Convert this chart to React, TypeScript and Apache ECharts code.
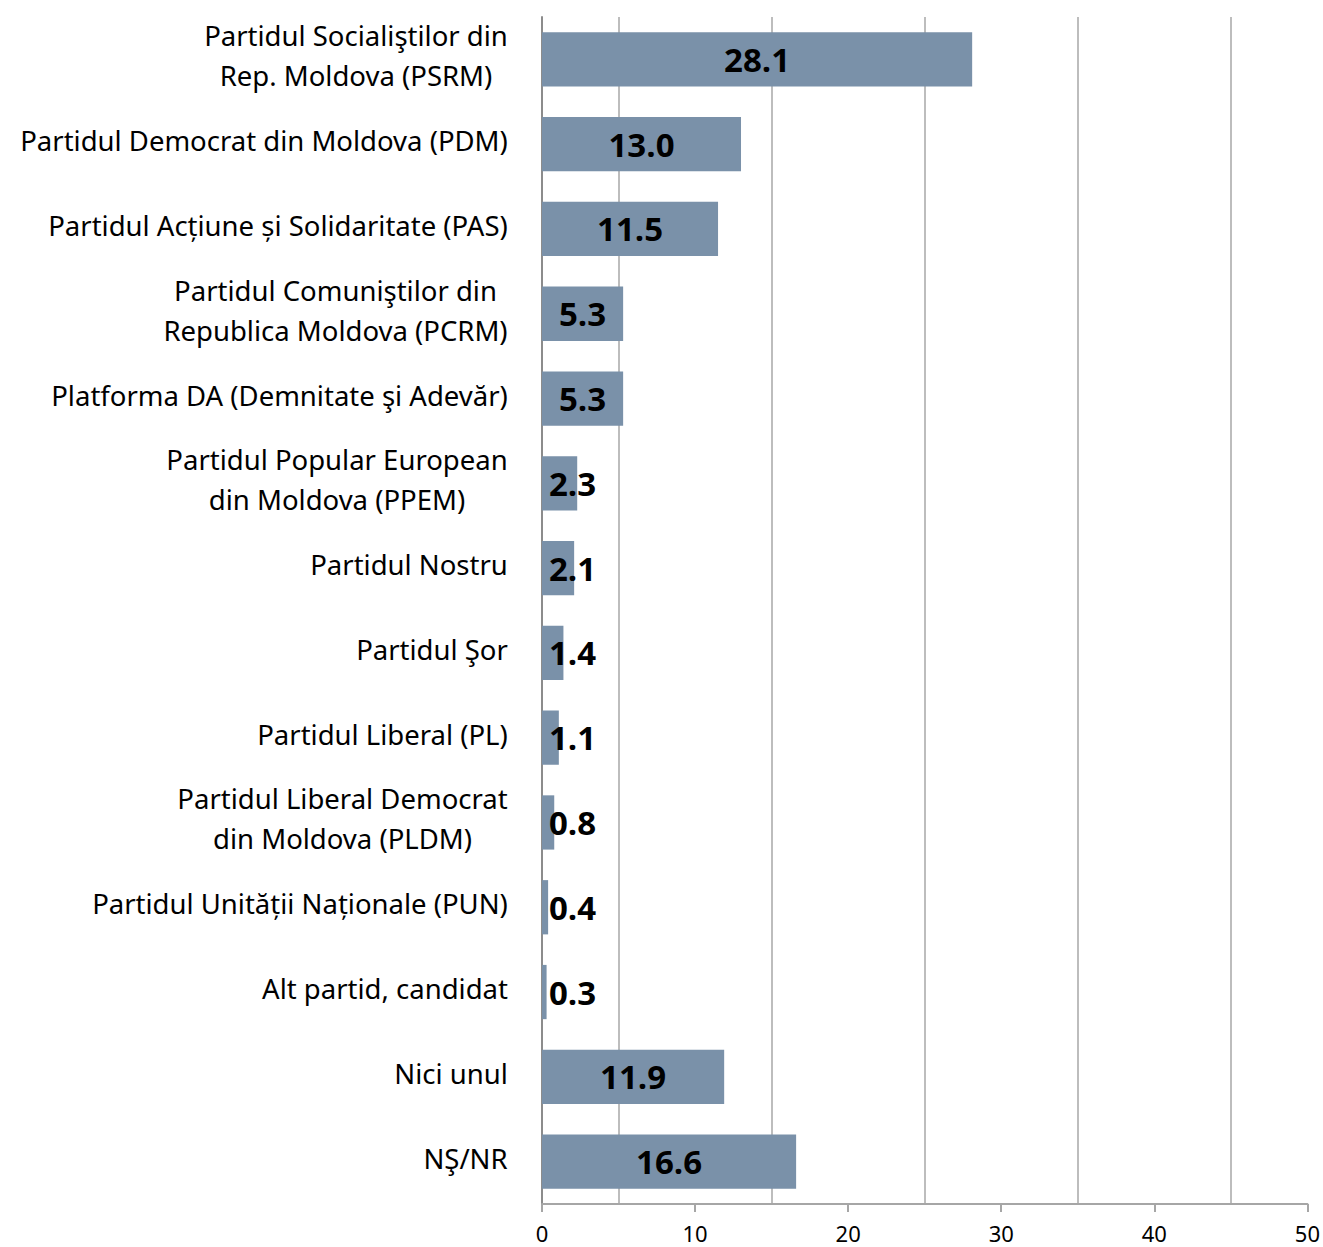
import React, { useEffect, useRef } from "react";
import * as echarts from "echarts";

const categories: string[] = [
  "Partidul Socialiştilor din\nRep. Moldova (PSRM)",
  "Partidul Democrat din Moldova (PDM)",
  "Partidul Acțiune și Solidaritate (PAS)",
  "Partidul Comuniştilor din\nRepublica Moldova (PCRM)",
  "Platforma DA (Demnitate şi Adevăr)",
  "Partidul Popular European\ndin Moldova (PPEM)",
  "Partidul Nostru",
  "Partidul Şor",
  "Partidul Liberal (PL)",
  "Partidul Liberal Democrat\ndin Moldova (PLDM)",
  "Partidul Unității Naționale (PUN)",
  "Alt partid, candidat",
  "Nici unul",
  "NŞ/NR",
];

const values: number[] = [28.1, 13.0, 11.5, 5.3, 5.3, 2.3, 2.1, 1.4, 1.1, 0.8, 0.4, 0.3, 11.9, 16.6];

const xTicks: number[] = [0, 10, 20, 30, 40, 50];

const FONT = '"Noto Sans", "Open Sans", sans-serif';
const CAT_SIZE = 27.5;
const W = 1323;
const H = 1247;
const GRID_LEFT = 542;
const GRID_RIGHT = 15;

function measure(text: string, font: string): number {
  const c = document.createElement("canvas");
  const ctx = c.getContext("2d");
  if (!ctx) return text.length * 13;
  ctx.font = font;
  return ctx.measureText(text).width;
}

export default function App() {
  const ref = useRef<HTMLDivElement>(null);

  useEffect(() => {
    if (!ref.current) return;
    document.body.style.margin = "0";
    const chart = echarts.init(ref.current, undefined, { renderer: "svg" });

    const rich: Record<string, any> = {};
    categories.forEach((cat, i) => {
      const lines = cat.split("\n");
      const w = Math.max(...lines.map((l) => measure(l, `${CAT_SIZE}px "Noto Sans"`)));
      rich["c" + i] = {
        width: Math.ceil(w) + 2,
        align: "center",
        fontSize: CAT_SIZE,
        fontFamily: FONT,
        color: "#000",
        lineHeight: 40,
      };
    });

    const xMin = xTicks[0];
    const xMax = xTicks[xTicks.length - 1];
    const pxPerUnit = (W - GRID_LEFT - GRID_RIGHT) / (xMax - xMin);

    const data = values.map((v) => {
      const half = (v * pxPerUnit) / 2;
      const fits = half >= 31;
      return {
        value: v,
        label: fits
          ? { position: "inside" as const }
          : { position: "insideLeft" as const, distance: 7 },
      };
    });

    chart.setOption({
      animation: false,
      backgroundColor: "#ffffff",
      grid: { left: GRID_LEFT, right: GRID_RIGHT, top: 17, bottom: 43, containLabel: false },
      xAxis: {
        type: "value",
        min: xMin,
        max: xMax,
        interval: 10,
        axisLine: { show: true, lineStyle: { color: "#a6a6a6", width: 2 } },
        axisTick: { show: true, length: 8, lineStyle: { color: "#a6a6a6", width: 2 } },
        axisLabel: { fontSize: 22, color: "#000", fontFamily: FONT, margin: 18 },
        splitLine: { show: false },
        minorTick: { show: false, splitNumber: 2 },
        minorSplitLine: { show: true, lineStyle: { color: "#bdbdbd", width: 2 } },
      },
      yAxis: {
        type: "category",
        inverse: true,
        data: categories,
        axisLine: { show: true, lineStyle: { color: "#8c8c8c", width: 2 } },
        axisTick: { show: false },
        axisLabel: {
          margin: 33,
          align: "right",
          padding: [0, 0, 7, 0],
          formatter: (val: string, idx: number) =>
            val
              .split("\n")
              .map((l) => `{c${idx}|${l}}`)
              .join("\n"),
          rich,
        },
      },
      series: [
        {
          type: "bar",
          data,
          barCategoryGap: "36%",
          itemStyle: { color: "#7a91a9" },
          label: {
            show: true,
            color: "#000",
            fontWeight: "bold",
            fontSize: 33,
            fontFamily: '"Open Sans", "Noto Sans", sans-serif',
            formatter: (p: any) => Number(p.value).toFixed(1),
          },
        },
      ],
    });

    return () => chart.dispose();
  }, []);

  return (
    <div
      ref={ref}
      style={{ position: "absolute", left: 0, top: 0, width: W, height: H, background: "#fff" }}
    />
  );
}
